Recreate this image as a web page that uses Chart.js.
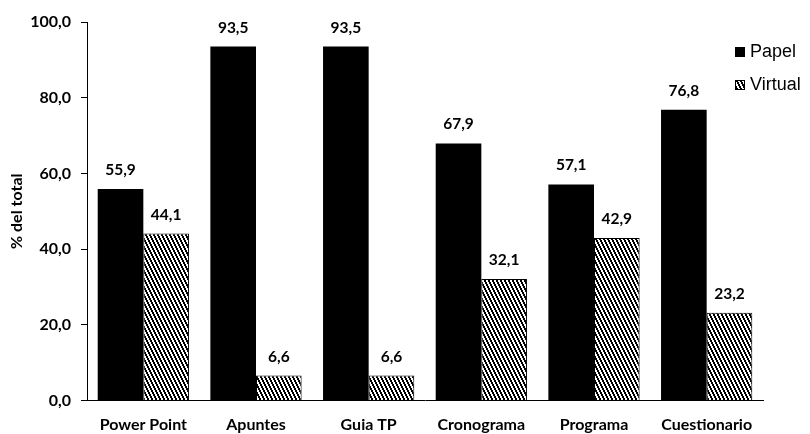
<!DOCTYPE html>
<html>
<head>
<meta charset="utf-8">
<script src="https://cdn.jsdelivr.net/npm/chart.js@4.4.1/dist/chart.umd.min.js"></script>
<style>
  html, body { margin: 0; padding: 0; background: #fff; }
  #wrap { width: 810px; height: 434px; }
</style>
</head>
<body>
<div id="wrap"><canvas id="c" width="810" height="434"></canvas></div>
<script>
// Material format used by the students (% of total answers)
const categories = ['Power Point', 'Apuntes', 'Guia TP', 'Cronograma', 'Programa', 'Cuestionario'];
const papel = [55.9, 93.5, 93.5, 67.9, 57.1, 76.8];
const virtual = [44.1, 6.6, 6.6, 32.1, 42.9, 23.2];
const seriesNames = ['Papel', 'Virtual'];
const yMin = 0, yMax = 100, yStep = 20;

const fmt = v => v.toFixed(1).replace('.', ',');
const axisFont = { family: 'Lato, "Open Sans", sans-serif', size: 16, weight: '700' };
const valueFont = { family: 'Lato, "Open Sans", sans-serif', size: 15.5, weight: '700' };

// diagonal hatch fill
function hatch() {
  const c = document.createElement('canvas');
  c.width = 4; c.height = 8;
  const g = c.getContext('2d');
  g.fillStyle = '#fff';
  g.fillRect(0, 0, 4, 8);
  g.fillStyle = '#000';
  for (let y = 0; y < 8; y++) {
    for (let x = 0; x < 4; x++) {
      if (((x - Math.floor(y / 2)) % 4 + 4) % 4 < 2) g.fillRect(x, y, 1, 1);
    }
  }
  return g.createPattern(c, 'repeat');
}
const hatchFill = hatch();

// value labels above each bar
const valueLabels = {
  id: 'valueLabels',
  afterDatasetsDraw(chart) {
    const ctx = chart.ctx;
    ctx.save();
    ctx.font = `${valueFont.weight} ${valueFont.size}px ${valueFont.family}`;
    ctx.fillStyle = '#000';
    ctx.textAlign = 'center';
    ctx.textBaseline = 'middle';
    chart.data.datasets.forEach((ds, i) => {
      chart.getDatasetMeta(i).data.forEach((bar, j) => {
        ctx.fillText(fmt(ds.data[j]), bar.x, bar.y - 19);
      });
    });
    ctx.restore();
  }
};

// legend in the upper right corner
const cornerLegend = {
  id: 'cornerLegend',
  afterDraw(chart) {
    const ctx = chart.ctx;
    ctx.save();
    ctx.font = '18px "Liberation Sans", Arial, sans-serif';
    ctx.textBaseline = 'middle';
    ctx.textAlign = 'left';
    chart.data.datasets.forEach((ds, i) => {
      const cy = 52 + i * 33;
      ctx.fillStyle = ds.backgroundColor;
      ctx.fillRect(735, cy - 5, 10, 10);
      if (ds.borderWidth) {
        ctx.strokeStyle = '#000';
        ctx.lineWidth = 1;
        ctx.strokeRect(735.5, cy - 4.5, 9, 9);
      }
      ctx.fillStyle = '#000';
      ctx.fillText(ds.label, 750, cy);
    });
    ctx.restore();
  }
};

new Chart(document.getElementById('c'), {
  type: 'bar',
  data: {
    labels: categories,
    datasets: [
      { label: seriesNames[0], data: papel, backgroundColor: '#000', borderWidth: 0 },
      { label: seriesNames[1], data: virtual, backgroundColor: hatchFill, borderColor: '#000', borderWidth: 1 }
    ]
  },
  options: {
    responsive: false,
    animation: false,
    categoryPercentage: 0.81,
    barPercentage: 1,
    layout: { padding: { top: 22, right: 47, left: 0, bottom: 0 } },
    plugins: {
      legend: { display: false },
      tooltip: { enabled: false }
    },
    scales: {
      x: {
        grid: { display: false, drawTicks: false },
        border: { display: true, color: '#000', width: 1 },
        ticks: { color: '#000', font: axisFont, padding: 15, maxRotation: 0 },
        afterFit: s => { s.height = 33.5; }
      },
      y: {
        min: yMin, max: yMax,
        grid: { drawOnChartArea: false, drawTicks: true, tickLength: 6, color: '#000' },
        border: { display: true, color: '#000', width: 1 },
        ticks: { stepSize: yStep, color: '#000', font: axisFont, padding: 10, callback: v => fmt(v) },
        title: { display: true, text: '% del total', color: '#000', font: axisFont, padding: { top: 7, bottom: 0 } },
        afterFit: s => { s.width = 87; }
      }
    }
  },
  plugins: [valueLabels, cornerLegend]
});
</script>
</body>
</html>
